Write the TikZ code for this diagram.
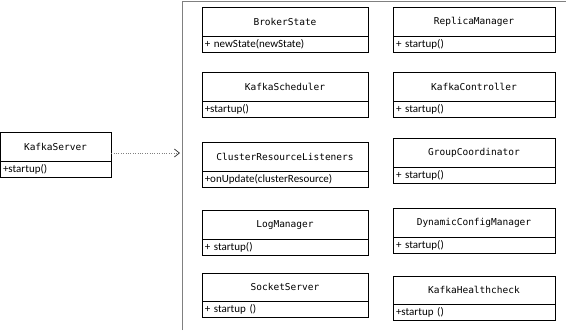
\documentclass[tikz,border=0pt]{standalone}
\usepackage{fontspec}
\newfontfamily\clsfont{DejaVu Sans Mono}
\newfontfamily\opsfont{Carlito}
\usetikzlibrary{arrows.meta}

\begin{document}
\begin{tikzpicture}[x=1pt,y=-1pt]

\tikzset{cls/.style = {draw, minimum width=#1, minimum height=28.5, inner sep=0, font=\clsfont\fontsize{9.5}{11}\selectfont}}
\tikzset{ops/.style = {draw, anchor=north, text width=#1, inner xsep=3, inner ysep=0, minimum height=16, align=left, font=\opsfont\fontsize{11}{12}\selectfont}}
\tikzset{dep/.style = {dotted, gray, -{Straight Barb[length=5,width=8,line width=0.8pt,color=darkgray]}}}

\useasboundingbox (0,0) rectangle (566,330);
%frame
\draw[gray] (182,330) -- (182,1) -- (566,1);
%classes
\node[cls=111] (server) at (55.5,146.5) {KafkaServer};
\node[ops=105pt] (server-ops) at (server.south) {+startup()};

\node[cls=166.5] (broker) at (285,21.5) {BrokerState};
\node[ops=160.5pt] (broker-ops) at (broker.south) {+ newState(newState)};
\node[cls=166.5] (scheduler) at (285,86.75) {KafkaScheduler};
\node[ops=160.5pt] (scheduler-ops) at (scheduler.south) {+startup()};
\node[cls=166.5] (cluster) at (285,156.5) {ClusterResourceListeners};
\node[ops=160.5pt] (cluster-ops) at (cluster.south) {+onUpdate(clusterResource)};
\node[cls=166.5] (logmgr) at (285,224.75) {LogManager};
\node[ops=160.5pt] (logmgr-ops) at (logmgr.south) {+ startup()};
\node[cls=166.5] (socket) at (285,287) {SocketServer};
\node[ops=160.5pt] (socket-ops) at (socket.south) {+ startup ()};

\node[cls=162] (replica) at (474,21.5) {ReplicaManager};
\node[ops=156pt] (replica-ops) at (replica.south) {+ startup()};
\node[cls=162] (controller) at (474,86.75) {KafkaController};
\node[ops=156pt] (controller-ops) at (controller.south) {+ startup()};
\node[cls=162] (group) at (474,152.5) {GroupCoordinator};
\node[ops=156pt] (group-ops) at (group.south) {+ startup()};
\node[cls=162] (dyncfg) at (474,222.5) {DynamicConfigManager};
\node[ops=156pt] (dyncfg-ops) at (dyncfg.south) {+ startup()};
\node[cls=162] (health) at (474,290) {KafkaHealthcheck};
\node[ops=156pt] (health-ops) at (health.south) {+startup ()};
%dependency
\coordinate (frame) at (180,153);
\draw[dep] (server.east |- frame) -- (frame);

\end{tikzpicture}
\end{document}
